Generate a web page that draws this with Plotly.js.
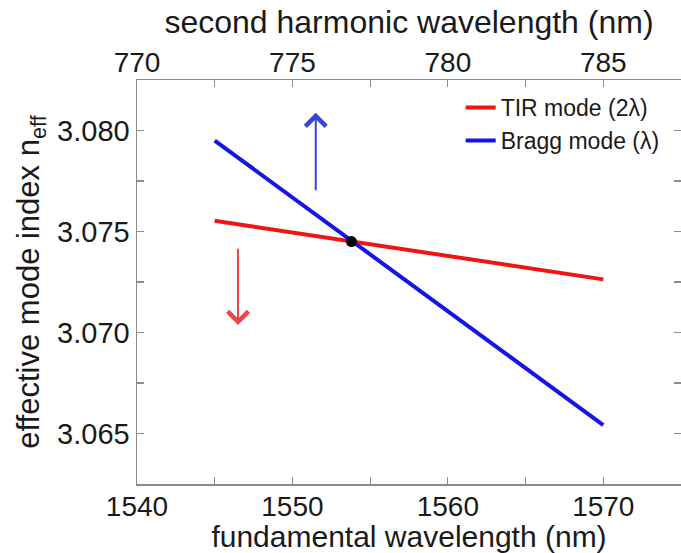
<!DOCTYPE html>
<html>
<head>
<meta charset="utf-8">
<script src="https://cdn.plot.ly/plotly-3.0.1.min.js"></script>
<style>html,body{margin:0;padding:0;background:#fff;overflow:hidden}#chart{width:681px;height:553px}</style>
</head>
<body>
<div id="chart"></div>
<script>
// Data
const fundamentalWavelength = [1545, 1570];          // nm
const tirModeNeff = [3.07553, 3.07263];               // TIR mode (2λ)
const braggModeNeff = [3.0795, 3.06542];              // Bragg mode (λ)
const crossingWavelength = [1553.8];
const crossingNeff = [3.0745];
const xRange = [1540, 1575];
const yRange = [3.0625, 3.0825];

const FONT = '"Liberation Sans", Arial, Helvetica, sans-serif';
const axisLine = '#8c8c8c';

const traces = [
  {x: fundamentalWavelength, y: tirModeNeff, mode: 'lines', name: 'TIR mode (2λ)',
   line: {color: '#f01414', width: 4}},
  {x: fundamentalWavelength, y: braggModeNeff, mode: 'lines', name: 'Bragg mode (λ)',
   line: {color: '#1414e6', width: 4}},
  {x: crossingWavelength, y: crossingNeff, mode: 'markers', showlegend: false,
   marker: {color: '#000', size: 11}},
  {x: [xRange[0] / 2], y: [null], xaxis: 'x2', mode: 'markers', showlegend: false, hoverinfo: 'skip'}
];

const layout = {
  width: 681, height: 553,
  margin: {l: 137, r: 0, t: 80, b: 69},
  paper_bgcolor: '#fff', plot_bgcolor: '#fff',
  font: {family: FONT, color: '#1a1a1a', size: 28},
  showlegend: true,
  legend: {x: 0.595, xanchor: 'left', y: 0.985, yanchor: 'top', bgcolor: 'rgba(0,0,0,0)',
           font: {size: 23, family: FONT, color: '#1a1a1a'}, tracegroupgap: 0, itemwidth: 30},
  xaxis: {
    range: xRange, dtick: 10, tick0: 1540, showgrid: false, zeroline: false,
    showline: true, linecolor: axisLine, linewidth: 1.5,
    ticks: 'inside', ticklen: 7, tickcolor: axisLine, tickwidth: 1.2,
    minor: {dtick: 5, ticks: 'inside', ticklen: 7, tickcolor: axisLine, tickwidth: 1.2, showgrid: false},
    tickfont: {size: 28}, ticklabelstandoff: -3,
    title: {text: 'fundamental wavelength (nm)', font: {size: 30}, standoff: 0}
  },
  xaxis2: {
    overlaying: 'x', side: 'top', range: [xRange[0] / 2, xRange[1] / 2], dtick: 5, tick0: 770,
    showgrid: false, zeroline: false, showline: true, linecolor: axisLine, linewidth: 1.5,
    ticks: 'inside', ticklen: 7, tickcolor: axisLine, tickwidth: 1.2,
    minor: {dtick: 2.5, ticks: 'inside', ticklen: 7, tickcolor: axisLine, tickwidth: 1.2, showgrid: false},
    tickfont: {size: 28}, ticklabelstandoff: -5,
    title: {text: 'second harmonic wavelength (nm)', font: {size: 32}, standoff: 4}
  },
  yaxis: {
    range: yRange, dtick: 0.005, tick0: 3.065, tickformat: '.3f', showgrid: false, zeroline: false,
    showline: true, linecolor: axisLine, linewidth: 1.5, mirror: 'ticks',
    ticks: 'inside', ticklen: 7, tickcolor: axisLine, tickwidth: 1.2,
    minor: {dtick: 0.0025, ticks: 'inside', ticklen: 7, tickcolor: axisLine, tickwidth: 1.2, showgrid: false},
    tickfont: {size: 29},
    title: {text: 'effective mode index n<sub>eff</sub>', font: {size: 31}, standoff: 8}
  },
  annotations: [
    {x: 1551.5, y: 3.08088, ax: 1551.5, ay: 3.07697, xref: 'x', yref: 'y', axref: 'x', ayref: 'y',
     showarrow: true, arrowhead: 4, arrowsize: 2, arrowwidth: 2, arrowcolor: '#3346d8', text: ''},
    {x: 1546.5, y: 3.07037, ax: 1546.5, ay: 3.07422, xref: 'x', yref: 'y', axref: 'x', ayref: 'y',
     showarrow: true, arrowhead: 4, arrowsize: 2, arrowwidth: 2, arrowcolor: '#ec4646', text: ''}
  ]
};

Plotly.newPlot('chart', traces, layout, {displayModeBar: false, staticPlot: true});
</script>
</body>
</html>
